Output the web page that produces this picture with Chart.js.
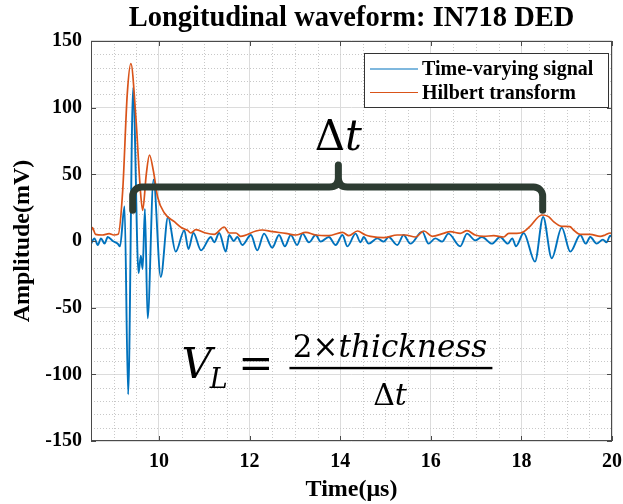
<!DOCTYPE html>
<html>
<head>
<meta charset="utf-8">
<script src="https://cdn.jsdelivr.net/npm/chart.js@4.4.0/dist/chart.umd.min.js"></script>
<style>
    html, body { margin: 0; padding: 0; background: #ffffff; }
</style>
</head>
<body>
<canvas id="grafica-onda" width="623" height="504"></canvas>
<script>
// Señal en el tiempo (µs, mV)
const signalTime = [8.50, 8.575, 8.65, 8.72, 8.80, 8.87, 8.98, 9.09, 9.14, 9.24, 9.32, 9.43, 9.55, 9.60, 9.64, 9.69, 9.75, 9.88,
    10.04, 10.20, 10.37, 10.56, 10.65, 10.76, 10.93, 11.145, 11.22, 11.33, 11.475, 11.55, 11.65, 11.73, 11.84,
    12.03, 12.17, 12.32, 12.50, 12.65, 12.78, 12.91, 13.05, 13.17, 13.31, 13.46, 13.57, 13.75, 13.90,
    14.05, 14.16, 14.34, 14.45, 14.52, 14.63, 14.82, 14.96, 15.07, 15.26, 15.40, 15.55, 15.81, 15.95,
    16.10, 16.25, 16.39, 16.65, 16.80, 16.98, 17.13, 17.35, 17.53, 17.70, 17.80, 17.88,
    18.05, 18.30, 18.48, 18.67, 18.89, 19.08, 19.30, 19.42, 19.52, 19.66, 19.80, 19.88, 19.96, 20.00];
const signalAmp = [-2, 2, -3, 2, -2, 3, 0, -2, -4, 26, -115, 115, -24, -11, -21, 24, -58, 46,
    -27, 18, -8, 8, -6, 6, -7, 3, -1, 6, -8, 4.5, 0, 3, -3,
    4.5, -7, 5.5, -5, 4.5, -4, 4.5, -3, 5.5, -1, 4.5, -0.5, 3, -3,
    4.5, -4, 5.5, -1, 3, -2, 2, -0.5, 3, -3, 4.5, -2, 7, -2,
    2, -0.5, 5.5, -4, 5.5, 0.5, 3, -2, 3, -2, 2, -4,
    6, -15.5, 18, -13, 10, -8, 4.5, -2, 3, -2, 1, -1, 4, 3];

// Envolvente (transformada de Hilbert)
const envelopeTime = [8.50, 8.53, 8.60, 8.75, 8.90, 9.00, 9.10, 9.20, 9.30, 9.38, 9.49, 9.59, 9.64, 9.72, 9.79, 9.88, 9.97,
    10.12, 10.34, 10.50, 10.63, 10.70, 10.815, 11.03, 11.22, 11.44, 11.55, 11.70, 11.80,
    12.14, 12.28, 12.50, 12.80, 13.02, 13.24, 13.46, 13.75, 14.05, 14.19, 14.38, 14.56, 14.67, 14.96,
    15.26, 15.44, 15.66, 15.85, 16.03, 16.28, 16.43, 16.65, 16.80, 16.98, 17.17, 17.39, 17.61, 17.72, 17.90,
    18.05, 18.19, 18.45, 18.60, 18.71, 18.89, 19.07, 19.15, 19.30, 19.52, 19.74, 19.85, 19.96, 20.00];
const envelopeAmp = [7, 10, 5, 4.5, 5.5, 4.5, 5, 38, 110, 133, 93, 38, 23, 50, 64.5, 52, 33,
    21, 14.5, 10, 8, 6, 8.5, 6, 5, 10.5, 6, 6, 3.5,
    7.5, 8.25, 7, 5.75, 4.5, 6.5, 4.5, 4, 6.5, 4, 7.5, 4.5, 3.5, 2.5,
    4.5, 4.5, 3, 7.5, 3.5, 5.75, 7, 5.75, 7.75, 4.5, 3.5, 4, 3, 5.75, 5.75,
    7, 11, 19.5, 18.3, 14.5, 11, 10.75, 8.25, 5, 5, 3.5, 4.5, 6, 5.5];

const xTicks = [10, 12, 14, 16, 18, 20];
const yTicks = [-150, -100, -50, 0, 50, 100, 150];

const serif = "'Liberation Serif', 'Times New Roman', serif";
const mathFont = "'DejaVu Serif', serif";

// Marco, ticks hacia adentro y rejilla menor
const marcoPlugin = {
    id: 'marco',
    beforeDatasetsDraw(chart) {
        const {ctx, chartArea: a, scales: {x, y}} = chart;
        ctx.save();
        ctx.strokeStyle = '#c8c8c8';
        ctx.lineWidth = 1;
        ctx.setLineDash([1, 2]);
        for (let v = 9; v < 20; v += 0.5) {
            if (v % 2 === 0) continue;
            const px = Math.round(x.getPixelForValue(v)) + 0.5;
            ctx.beginPath(); ctx.moveTo(px, a.top); ctx.lineTo(px, a.bottom); ctx.stroke();
        }
        for (let v = -140; v < 150; v += 10) {
            if (v % 50 === 0) continue;
            const py = Math.round(y.getPixelForValue(v)) + 0.5;
            ctx.beginPath(); ctx.moveTo(a.left, py); ctx.lineTo(a.right, py); ctx.stroke();
        }
        ctx.restore();
    },
    afterDatasetsDraw(chart) {
        const {ctx, chartArea: a, scales: {x, y}} = chart;
        ctx.save();
        ctx.strokeStyle = '#4a4a4a';
        ctx.lineWidth = 1;
        ctx.strokeRect(a.left + 0.5, a.top + 0.5, a.right - a.left - 1, a.bottom - a.top - 1);
        const t = 5;
        xTicks.forEach(v => {
            const px = Math.round(x.getPixelForValue(v)) + 0.5;
            ctx.beginPath();
            ctx.moveTo(px, a.bottom); ctx.lineTo(px, a.bottom - t);
            ctx.moveTo(px, a.top); ctx.lineTo(px, a.top + t);
            ctx.stroke();
        });
        yTicks.forEach(v => {
            const py = Math.round(y.getPixelForValue(v)) + 0.5;
            ctx.beginPath();
            ctx.moveTo(a.left, py); ctx.lineTo(a.left + t, py);
            ctx.moveTo(a.right, py); ctx.lineTo(a.right - t, py);
            ctx.stroke();
        });
        ctx.restore();
    }
};

// Llave del Δt y la fórmula
const anotacionesPlugin = {
    id: 'anotaciones',
    afterDatasetsDraw(chart) {
        const {ctx, scales: {x, y}} = chart;
        ctx.save();
        // llave
        const xL = x.getPixelForValue(9.42), xR = x.getPixelForValue(18.47), xC = x.getPixelForValue(13.96);
        const yB = y.getPixelForValue(23), yH = y.getPixelForValue(40.5), yT = y.getPixelForValue(57);
        const r = 9;
        ctx.strokeStyle = '#2d3c32';
        ctx.lineWidth = 7;
        ctx.lineCap = 'round';
        ctx.lineJoin = 'round';
        ctx.beginPath();
        ctx.moveTo(xL, yB);
        ctx.arcTo(xL, yH, xL + r, yH, r);
        ctx.lineTo(xC - r, yH);
        ctx.quadraticCurveTo(xC, yH, xC, yH - r);
        ctx.lineTo(xC, yT);
        ctx.moveTo(xC, yT);
        ctx.lineTo(xC, yH - r);
        ctx.quadraticCurveTo(xC, yH, xC + r, yH);
        ctx.lineTo(xR - r, yH);
        ctx.arcTo(xR, yH, xR, yB, r);
        ctx.lineTo(xR, yB);
        ctx.stroke();

        ctx.fillStyle = '#000';
        ctx.textBaseline = 'alphabetic';
        // Δt sobre la llave
        drawDeltaT(ctx, xC, y.getPixelForValue(68), 42);

        // V_L = 2×thickness / Δt
        ctx.textAlign = 'left';
        ctx.font = 'italic 42px ' + mathFont;
        ctx.fillText('V', x.getPixelForValue(10.50), y.getPixelForValue(-102.5));
        ctx.font = 'italic 27px ' + mathFont;
        ctx.fillText('L', x.getPixelForValue(11.12), y.getPixelForValue(-110));
        ctx.font = '42px ' + mathFont;
        ctx.textAlign = 'center';
        ctx.fillText('=', x.getPixelForValue(12.14), y.getPixelForValue(-102.5));
        const fx = x.getPixelForValue(15.1);
        ctx.font = '31px ' + mathFont;
        const w2 = ctx.measureText('2×').width;
        ctx.font = 'italic 31px ' + mathFont;
        const wt = ctx.measureText('thickness').width;
        const sx = fx - (w2 + wt) / 2, by = y.getPixelForValue(-87);
        ctx.textAlign = 'left';
        ctx.font = '31px ' + mathFont;
        ctx.fillText('2×', sx, by);
        ctx.font = 'italic 31px ' + mathFont;
        ctx.fillText('thickness', sx + w2, by);
        ctx.fillRect(x.getPixelForValue(12.88), y.getPixelForValue(-95.3) - 1.2, x.getPixelForValue(17.36) - x.getPixelForValue(12.88), 2.4);
        drawDeltaT(ctx, fx, y.getPixelForValue(-123), 30);
        ctx.restore();
    }
};

function drawDeltaT(ctx, cx, base, size) {
    ctx.font = size + 'px ' + mathFont;
    const wd = ctx.measureText('Δ').width;
    ctx.font = 'italic ' + size + 'px ' + mathFont;
    const wt = ctx.measureText('t').width;
    const sx = cx - (wd + wt) / 2;
    ctx.textAlign = 'left';
    ctx.font = size + 'px ' + mathFont;
    ctx.fillText('Δ', sx, base);
    ctx.font = 'italic ' + size + 'px ' + mathFont;
    ctx.fillText('t', sx + wd, base);
}

// Leyenda con recuadro
const leyendaPlugin = {
    id: 'leyenda',
    afterDatasetsDraw(chart) {
        const {ctx, chartArea: a} = chart;
        const w = 244, h = 54;
        const lx = a.right - 4 - w, ly = a.top + 12;
        ctx.save();
        ctx.fillStyle = '#fff';
        ctx.fillRect(lx, ly, w, h);
        ctx.strokeStyle = '#333';
        ctx.lineWidth = 1;
        ctx.strokeRect(lx + 0.5, ly + 0.5, w, h);
        ctx.font = 'bold 20px ' + serif;
        ctx.textBaseline = 'middle';
        ctx.textAlign = 'left';
        const ds = chart.data.datasets;
        ds.forEach((d, i) => {
            const cy = ly + 16 + i * 23.5;
            ctx.strokeStyle = d.borderColor;
            ctx.lineWidth = 1.2;
            ctx.beginPath(); ctx.moveTo(lx + 6, cy); ctx.lineTo(lx + 54, cy); ctx.stroke();
            ctx.fillStyle = '#000';
            ctx.fillText(d.label, lx + 58, cy + 1);
        });
        ctx.restore();
    }
};

const lienzo = document.getElementById('grafica-onda');

const chart = new Chart(lienzo, {
    type: 'line',
    data: {
        datasets: [{
            label: 'Time-varying signal',
            data: signalTime.map((t, i) => ({x: t, y: signalAmp[i]})),
            borderColor: '#0072BD',
            borderWidth: 1.9,
            pointRadius: 0,
            cubicInterpolationMode: 'monotone',
            order: 2
        }, {
            label: 'Hilbert transform',
            data: envelopeTime.map((t, i) => ({x: t, y: envelopeAmp[i]})),
            borderColor: '#D95319',
            borderWidth: 1.7,
            pointRadius: 0,
            cubicInterpolationMode: 'monotone',
            order: 1
        }]
    },
    options: {
        responsive: false,
        animation: false,
        devicePixelRatio: 1,
        layout: {padding: {left: 0, right: 11, top: 0, bottom: 0}},
        plugins: {
            legend: {display: false},
            tooltip: {enabled: false},
            title: {
                display: true,
                fullSize: false,
                text: 'Longitudinal waveform: IN718 DED',
                color: '#000',
                font: {family: serif, size: 28.5, weight: 'bold'},
                padding: {top: 2, bottom: 4.8}
            }
        },
        scales: {
            x: {
                type: 'linear',
                min: 8.5,
                max: 20,
                afterBuildTicks: s => { s.ticks = xTicks.map(v => ({value: v})); },
                afterFit: s => { s.height = 63; s.paddingLeft = 0; s.paddingRight = 0; },
                ticks: {
                    color: '#000',
                    font: {family: serif, size: 20, weight: 'bold'},
                    padding: 9,
                    maxRotation: 0,
                    autoSkip: false
                },
                grid: {color: '#dcdcdc', drawTicks: false},
                border: {display: false},
                title: {
                    display: true,
                    text: 'Time(μs)',
                    color: '#000',
                    font: {family: serif, size: 24, weight: 'bold'},
                    padding: {top: 0, bottom: 0}
                }
            },
            y: {
                min: -150,
                max: 150,
                afterBuildTicks: s => { s.ticks = yTicks.map(v => ({value: v})); },
                afterFit: s => { s.width = 91; },
                ticks: {
                    color: '#000',
                    font: {family: serif, size: 20, weight: 'bold'},
                    padding: 9
                },
                grid: {color: '#dcdcdc', drawTicks: false},
                border: {display: false},
                title: {
                    display: true,
                    text: 'Amplitude(mV)',
                    color: '#000',
                    font: {family: serif, size: 24, weight: 'bold'},
                    padding: {top: 8, bottom: 0}
                }
            }
        }
    },
    plugins: [marcoPlugin, anotacionesPlugin, leyendaPlugin]
});
</script>
</body>
</html>
